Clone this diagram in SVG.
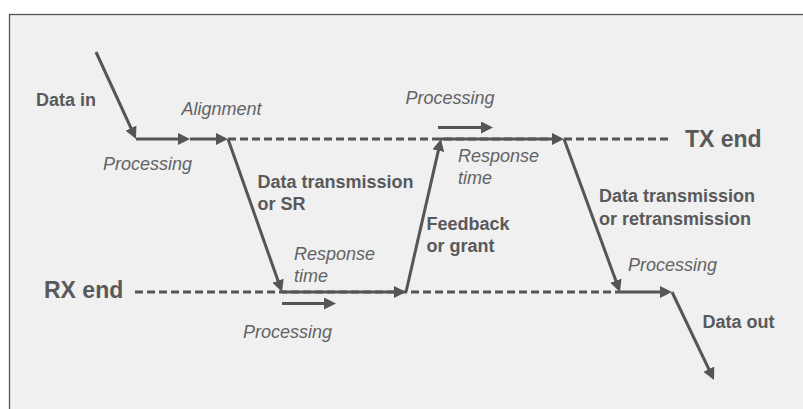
<svg xmlns="http://www.w3.org/2000/svg" width="803" height="409" viewBox="0 0 803 409">
<style>
.ln{stroke:#555557;stroke-width:3;fill:none}
.da{stroke:#555557;stroke-width:3;fill:none;stroke-dasharray:8 4}
.ar{marker-end:url(#ah)}
.b{font-family:"Liberation Sans",Arial,sans-serif;font-weight:bold;font-size:18px;fill:#59595b}
.big{font-size:23px}
.i{font-family:"Liberation Sans",Arial,sans-serif;font-style:italic;font-size:18px;fill:#636365}
</style>
<defs>
<marker id="ah" markerUnits="userSpaceOnUse" markerWidth="12" markerHeight="12" refX="8" refY="6" orient="auto">
<path d="M0,0 L12,6 L0,12 z" fill="#555557"/>
</marker>
</defs>
<rect x="0" y="0" width="803" height="409" fill="#ffffff"/>
<rect x="9.5" y="14.5" width="800" height="400" fill="#eff0ef" stroke="#555557" stroke-width="1.3"/>
<g id="connectors">
<line class="da" x1="228" y1="139" x2="670" y2="139"/>
<line class="da" x1="135" y1="292" x2="620" y2="292"/>
<line class="ln ar" x1="96" y1="52" x2="134.33" y2="135.37"/>
<line class="ln ar" x1="136" y1="139" x2="186" y2="139"/>
<line class="ln ar" x1="190" y1="139" x2="224" y2="139"/>
<line class="ln ar" x1="228" y1="139" x2="280.67" y2="288.23"/>
<line class="ln ar" x1="282" y1="292" x2="402" y2="292"/>
<line class="ln ar" x1="282" y1="303.5" x2="332" y2="303.5"/>
<line class="ln ar" x1="406" y1="292" x2="440.11" y2="142.9"/>
<line class="ln ar" x1="438" y1="127.5" x2="489" y2="127.5"/>
<line class="ln ar" x1="440" y1="139" x2="560" y2="139"/>
<line class="ln ar" x1="564" y1="139" x2="618.63" y2="288.24"/>
<line class="ln ar" x1="620" y1="292" x2="668" y2="292"/>
<line class="ln ar" x1="672" y1="292" x2="712.28" y2="376.39"/>
</g>
<g id="tx-end"><text class="b big" x="685" y="146.5">TX end</text></g>
<g id="rx-end"><text class="b big" x="44" y="298">RX end</text></g>
<g id="data-in"><text class="b" x="36" y="106">Data in</text></g>
<g id="alignment"><text class="i" x="181.5" y="115">Alignment</text></g>
<g id="processing-1"><text class="i" x="103" y="170">Processing</text></g>
<g id="data-transmission-sr"><text class="b" x="257.5" y="188">Data transmission</text><text class="b" x="257.5" y="210">or SR</text></g>
<g id="response-time-rx"><text class="i" x="294" y="260">Response</text><text class="i" x="294" y="282">time</text></g>
<g id="processing-rx"><text class="i" x="243" y="338">Processing</text></g>
<g id="feedback"><text class="b" x="426.5" y="230">Feedback</text><text class="b" x="426.5" y="252">or grant</text></g>
<g id="processing-tx"><text class="i" x="405.5" y="104">Processing</text></g>
<g id="response-time-tx"><text class="i" x="458" y="161.5">Response</text><text class="i" x="458" y="183.5">time</text></g>
<g id="data-retransmission"><text class="b" x="599" y="202">Data transmission</text><text class="b" x="599" y="224.5">or retransmission</text></g>
<g id="processing-out"><text class="i" x="628" y="271">Processing</text></g>
<g id="data-out"><text class="b" x="702.5" y="328">Data out</text></g>
</svg>
